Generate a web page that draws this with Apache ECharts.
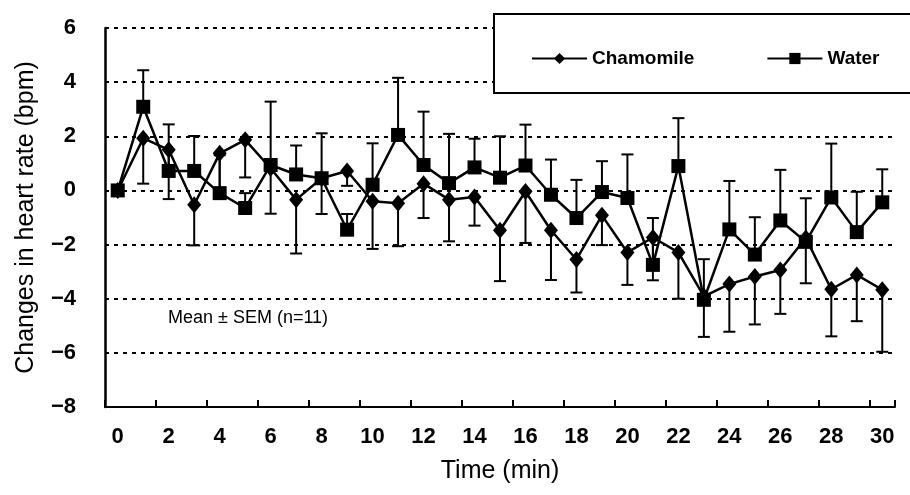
<!DOCTYPE html>
<html>
<head>
<meta charset="utf-8">
<script src="https://cdn.jsdelivr.net/npm/echarts@6/dist/echarts.min.js"></script>
<style>
  html, body { margin: 0; padding: 0; background: #fff; }
  #main { width: 910px; height: 495px; }
</style>
</head>
<body>
<div id="main"></div>
<script>
// minutes on the x axis
const minutes = ['0', '1', '2', '3', '4', '5', '6', '7', '8', '9', '10',
  '11', '12', '13', '14', '15', '16', '17', '18', '19', '20',
  '21', '22', '23', '24', '25', '26', '27', '28', '29', '30'];

// mean change in heart rate (bpm)
const chamomile = [0, 1.93, 1.50, -0.53, 1.37, 1.87, 0.82, -0.34, 0.45, 0.72, -0.40,
  -0.47, 0.25, -0.34, -0.24, -1.47, -0.04, -1.47, -2.55, -0.92, -2.29,
  -1.74, -2.29, -3.91, -3.46, -3.18, -2.94, -1.76, -3.65, -3.12, -3.67];
const water = [0, 3.09, 0.72, 0.72, -0.10, -0.65, 0.94, 0.59, 0.45, -1.45, 0.21,
  2.05, 0.94, 0.27, 0.85, 0.47, 0.92, -0.16, -1.02, -0.06, -0.28,
  -2.75, 0.90, -4.04, -1.44, -2.37, -1.11, -1.90, -0.26, -1.54, -0.44];

// SEM (chamomile drawn downward, water upward)
const chamomileSem = [0, 1.68, 1.82, 1.50, 1.40, 1.39, 1.68, 1.99, 1.32, 0.55, 1.76,
  1.59, 1.27, 1.54, 1.06, 1.88, 1.90, 1.84, 1.22, 1.10, 1.20,
  1.58, 1.71, 1.50, 1.76, 1.77, 1.62, 1.67, 1.74, 1.71, 2.29];
const waterSem = [0, 1.35, 1.72, 1.29, 1.40, 0.55, 2.34, 1.07, 1.66, 0.58, 1.53,
  2.11, 1.97, 1.82, 1.06, 1.53, 1.51, 1.30, 1.41, 1.14, 1.61,
  1.73, 1.77, 1.50, 1.79, 1.38, 1.87, 1.61, 1.99, 1.49, 1.22];

const font = 'Liberation Sans, Arial, sans-serif';

// error bar: line from mean to mean±sem with a cap
function errorBar(params, api) {
  const i = api.value(0);
  const p0 = api.coord([i, api.value(1)]);
  const p1 = api.coord([i, api.value(2)]);
  const w = 6;
  const style = { stroke: '#000', lineWidth: 2 };
  return {
    type: 'group',
    children: [
      { type: 'line', shape: { x1: p0[0], y1: p0[1], x2: p1[0], y2: p1[1] }, style: style },
      { type: 'line', shape: { x1: p1[0] - w, y1: p1[1], x2: p1[0] + w, y2: p1[1] }, style: style }
    ]
  };
}

const chart = echarts.init(document.getElementById('main'));
chart.setOption({
  animation: false,
  backgroundColor: '#fff',
  grid: { left: 105, right: 15, top: 28, bottom: 88 },
  legend: {
    left: 526, top: 44,
    itemWidth: 55, itemHeight: 14, itemGap: 72,
    textStyle: { fontFamily: font, fontSize: 19, fontWeight: 'bold', color: '#000' },
    data: ['Chamomile', 'Water'],
    z: 10
  },
  xAxis: {
    type: 'category',
    data: minutes,
    boundaryGap: true,
    name: 'Time (min)',
    nameLocation: 'middle',
    nameGap: 52,
    nameTextStyle: { fontFamily: font, fontSize: 25, color: '#000' },
    axisLine: { onZero: false, lineStyle: { color: '#000', width: 2 } },
    axisTick: { show: true, inside: true, interval: 1, length: 7, lineStyle: { color: '#000', width: 2 } },
    axisLabel: { interval: 1, margin: 19, fontFamily: font, fontSize: 22, fontWeight: 'bold', color: '#000' },
    splitLine: { show: false }
  },
  yAxis: {
    type: 'value',
    min: -8, max: 6, interval: 2,
    name: 'Changes in heart rate (bpm)',
    nameLocation: 'middle',
    nameGap: 66,
    nameTextStyle: { fontFamily: font, fontSize: 25, color: '#000' },
    axisLine: { show: true, lineStyle: { color: '#000', width: 2.5 } },
    axisTick: { show: false },
    axisLabel: {
      margin: 29, fontFamily: font, fontSize: 22, fontWeight: 'bold', color: '#000',
      formatter: v => (v < 0 ? '\u2212' + Math.abs(v) : String(v))
    },
    splitLine: { lineStyle: { color: '#000', width: 2, type: [4, 5] } }
  },
  graphic: [
    {
      type: 'rect', left: 493, top: 13, z: 5,
      shape: { width: 440, height: 79 },
      style: { fill: '#fff', stroke: '#000', lineWidth: 2 }
    },
    {
      type: 'text', left: 168, top: 309, z: 5,
      style: { text: 'Mean \u00b1 SEM (n=11)', fontFamily: font, fontSize: 18, fill: '#000' }
    }
  ],
  series: [
    {
      type: 'custom',
      renderItem: errorBar,
      data: chamomile.map((v, i) => [i, v, v - chamomileSem[i]]),
      z: 1, silent: true
    },
    {
      type: 'custom',
      renderItem: errorBar,
      data: water.map((v, i) => [i, v, v + waterSem[i]]),
      z: 1, silent: true
    },
    {
      name: 'Chamomile',
      type: 'line',
      data: chamomile,
      symbol: 'diamond',
      symbolSize: [14, 17],
      showAllSymbol: true,
      lineStyle: { color: '#000', width: 2.5 },
      itemStyle: { color: '#000' },
      z: 3
    },
    {
      name: 'Water',
      type: 'line',
      data: water,
      symbol: 'rect',
      symbolSize: 14,
      showAllSymbol: true,
      lineStyle: { color: '#000', width: 2.5 },
      itemStyle: { color: '#000' },
      z: 3
    }
  ]
});
</script>
</body>
</html>
